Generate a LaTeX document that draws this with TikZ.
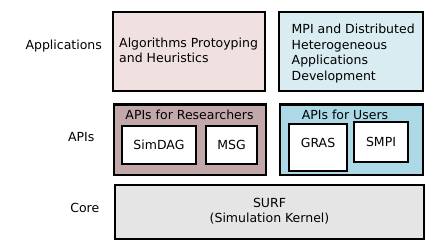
\documentclass[tikz,border=0pt]{standalone}
\usepackage{fontspec}
\setmainfont{DejaVu Sans}
\definecolor{algofill}{HTML}{F0E0E0}
\definecolor{mpifill}{HTML}{D8ECF2}
\definecolor{resfill}{HTML}{C2A8A8}
\definecolor{userfill}{HTML}{ADD8E6}
\definecolor{surffill}{HTML}{E5E5E5}
\tikzset{
  box/.style={draw=black, line width=2pt},
  txt/.style={inner sep=0pt, font=\fontsize{12.5}{15.7}\selectfont},
}
\begin{document}
\begin{tikzpicture}[x=1pt,y=-1pt]
\useasboundingbox (0,0) rectangle (434,246);
% boxes
\draw[box, fill=algofill] (112.5,12) rectangle (265,91.5);
\draw[box, fill=mpifill] (278.5,12) rectangle (423,91.5);
\draw[box, fill=resfill] (113.5,104.5) rectangle (266,174.5);
\draw[box, fill=userfill] (280,104.5) rectangle (423,174.5);
\draw[box, fill=white] (122,126) rectangle (196,163.5);
\draw[box, fill=white] (206,126) rectangle (257,163.5);
\draw[box, fill=white] (289,124) rectangle (347,171);
\draw[box, fill=white] (354,122) rectangle (408,162);
\draw[box, fill=surffill] (115,185) rectangle (423.5,238.5);
% layer labels
\node[txt] (lapp) at (63.7,46.5) {Applications};
\node[txt] (lapi) at (81.3,137) {APIs};
\node[txt] (lcore) at (84.8,208.3) {Core};
% texts
\node[txt, anchor=west, align=left] (algo) at (119,50.3) {Algorithms Protoyping\\and Heuristics};
\node[txt, anchor=west, align=left] (mpi) at (291.5,53.6) {MPI and Distributed\\Heterogeneous\\Applications\\Development};
\node[txt] (res) at (189.5,115) {APIs for Researchers};
\node[txt] (usr) at (345,115) {APIs for Users};
\node[txt] (simdag) at (159,145) {SimDAG};
\node[txt] (msg) at (231.5,145) {MSG};
\node[txt] (gras) at (318,143.3) {GRAS};
\node[txt] (smpi) at (381,141.6) {SMPI};
\node[txt, align=center] (surf) at (269.5,211.3) {SURF\\(Simulation Kernel)};
\end{tikzpicture}
\end{document}
